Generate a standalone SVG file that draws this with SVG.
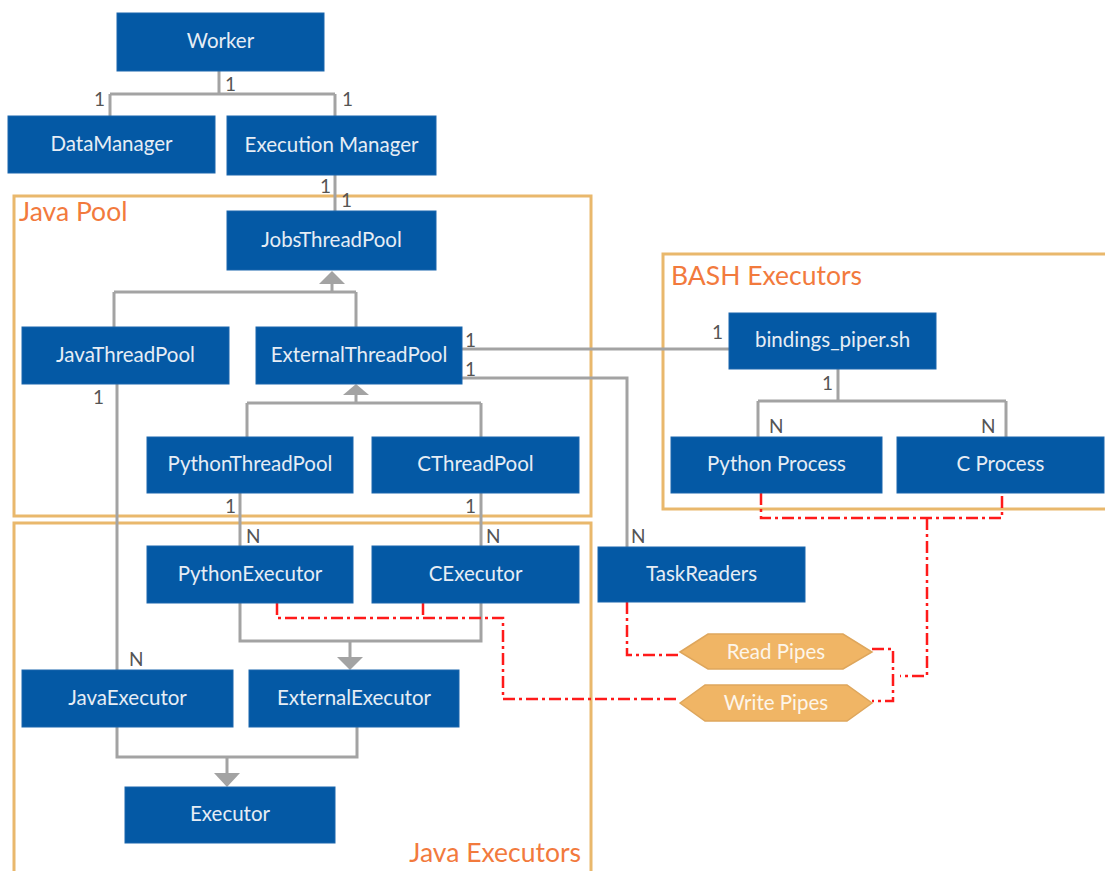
<svg xmlns="http://www.w3.org/2000/svg" width="1105" height="871" viewBox="0 0 1105 871">
  <defs>
    <style>
      .node rect { fill: #0459a5; stroke: #1a66ad; stroke-width: 1; }
      .node text { fill: #e6edf5; font-family: Lato, "Open Sans", sans-serif; font-size: 20.5px; text-anchor: middle; dominant-baseline: central; }
      .pipe polygon { fill: #f0b565; stroke: #dea65c; stroke-width: 1.5; }
      .pipe text { fill: #fdf6ea; font-family: Lato, "Open Sans", sans-serif; font-size: 20.5px; text-anchor: middle; dominant-baseline: central; }
      .group rect { fill: none; stroke: #e9b86c; stroke-width: 3; }
      .group text { fill: #f27a3d; font-family: Lato, "Open Sans", sans-serif; font-size: 26.5px; }
      .link { fill: none; stroke: #a3a3a3; stroke-width: 3; }
      .pipe-link { fill: none; stroke: #ff1a1a; stroke-width: 2.5; stroke-dasharray: 12 4 3 4; }
      .head { fill: #a3a3a3; }
      .mult { fill: #555555; font-family: Lato, "Open Sans", sans-serif; font-size: 19px; }
    </style>
  </defs>

  <rect width="1105" height="871" fill="#ffffff"/>

  <!-- Containers -->
  <g id="java-pool" class="group">
    <rect x="14" y="196" width="577" height="320"/>
    <text x="19" y="221">Java Pool</text>
  </g>
  <g id="java-executors" class="group">
    <rect x="14" y="523" width="577" height="360"/>
    <text x="581" y="862" text-anchor="end">Java Executors</text>
  </g>
  <g id="bash-executors" class="group">
    <rect x="663" y="254" width="460" height="255"/>
    <text x="671" y="285">BASH Executors</text>
  </g>

  <!-- Connectors -->
  <g id="connectors">
    <!-- Worker to managers -->
    <path class="link" d="M219 71 V94 M110 94 H335 M110 94 V116 M335 94 V116"/>
    <!-- Execution Manager to JobsThreadPool -->
    <path class="link" d="M335 175 V211"/>
    <!-- Thread pool hierarchy -->
    <path class="link" d="M332 284 V292 M114 292 H356 M114 292 V327 M356 292 V327"/>
    <polygon class="head" points="332,271 345,284 319,284"/>
    <path class="link" d="M356 395 V403 M247 403 H481 M247 403 V437 M481 403 V437"/>
    <polygon class="head" points="356,384 369,395 343,395"/>
    <!-- ExternalThreadPool to BASH side and TaskReaders -->
    <path class="link" d="M462 349 H729"/>
    <path class="link" d="M462 378 H627 V547"/>
    <!-- bindings_piper.sh to processes -->
    <path class="link" d="M838 369 V401 M758 401 H1006 M758 401 V437 M1006 401 V437"/>
    <!-- Pools to executors -->
    <path class="link" d="M117 384 V670"/>
    <path class="link" d="M240 493 V546"/>
    <path class="link" d="M481 493 V546"/>
    <!-- Executor hierarchy -->
    <path class="link" d="M240 603 V641 H481 V603 M350 641 V657"/>
    <polygon class="head" points="350,670 337,657 363,657"/>
    <path class="link" d="M117 727 V757 H357 V727 M227 757 V773"/>
    <polygon class="head" points="227,787 214,773 240,773"/>

    <!-- Pipes -->
    <path class="pipe-link" d="M277 603 V618 H503 V699 H680"/>
    <path class="pipe-link" d="M423 603 V618"/>
    <path class="pipe-link" d="M627 602 V655 H680"/>
    <path class="pipe-link" d="M761 493 V518 H1002 V493"/>
    <path class="pipe-link" d="M927 518 V676 H900"/>
    <path class="pipe-link" d="M872 649 H893 V701 H872"/>

    <!-- Multiplicities -->
    <text class="mult" x="225" y="91">1</text>
    <text class="mult" x="94" y="106">1</text>
    <text class="mult" x="342" y="106">1</text>
    <text class="mult" x="320" y="193">1</text>
    <text class="mult" x="341" y="207">1</text>
    <text class="mult" x="465" y="347">1</text>
    <text class="mult" x="465" y="376">1</text>
    <text class="mult" x="712" y="339">1</text>
    <text class="mult" x="93" y="404">1</text>
    <text class="mult" x="822" y="390">1</text>
    <text class="mult" x="769" y="433">N</text>
    <text class="mult" x="981" y="433">N</text>
    <text class="mult" x="225" y="513">1</text>
    <text class="mult" x="465" y="513">1</text>
    <text class="mult" x="246" y="543">N</text>
    <text class="mult" x="486" y="543">N</text>
    <text class="mult" x="631" y="543">N</text>
    <text class="mult" x="129" y="666">N</text>
  </g>

  <!-- Nodes -->
  <g id="worker" class="node"><rect x="117" y="13" width="207" height="58"/><text x="220.5" y="40">Worker</text></g>
  <g id="data-manager" class="node"><rect x="8" y="116" width="207" height="57"/><text x="111.5" y="142.5">DataManager</text></g>
  <g id="execution-manager" class="node"><rect x="227" y="116" width="209" height="59"/><text x="331.5" y="143.5">Execution Manager</text></g>
  <g id="jobs-thread-pool" class="node"><rect x="227" y="211" width="209" height="59"/><text x="331.5" y="238.5">JobsThreadPool</text></g>
  <g id="java-thread-pool" class="node"><rect x="22" y="327" width="207" height="57"/><text x="125.5" y="353.5">JavaThreadPool</text></g>
  <g id="external-thread-pool" class="node"><rect x="256" y="327" width="206" height="57"/><text x="359" y="353.5">ExternalThreadPool</text></g>
  <g id="python-thread-pool" class="node"><rect x="147" y="437" width="206" height="56"/><text x="250" y="463">PythonThreadPool</text></g>
  <g id="c-thread-pool" class="node"><rect x="372" y="437" width="207" height="56"/><text x="475.5" y="463">CThreadPool</text></g>
  <g id="bindings-piper" class="node"><rect x="729" y="313" width="207" height="56"/><text x="832.5" y="339">bindings_piper.sh</text></g>
  <g id="python-process" class="node"><rect x="671" y="437" width="211" height="56"/><text x="776.5" y="463">Python Process</text></g>
  <g id="c-process" class="node"><rect x="897" y="437" width="207" height="56"/><text x="1000.5" y="463">C Process</text></g>
  <g id="python-executor" class="node"><rect x="147" y="546" width="206" height="57"/><text x="250" y="572.5">PythonExecutor</text></g>
  <g id="c-executor" class="node"><rect x="372" y="546" width="207" height="57"/><text x="475.5" y="572.5">CExecutor</text></g>
  <g id="task-readers" class="node"><rect x="598" y="547" width="207" height="55"/><text x="701.5" y="572.5">TaskReaders</text></g>
  <g id="java-executor" class="node"><rect x="22" y="670" width="211" height="57"/><text x="127.5" y="696.5">JavaExecutor</text></g>
  <g id="external-executor" class="node"><rect x="249" y="670" width="210" height="57"/><text x="354" y="696.5">ExternalExecutor</text></g>
  <g id="executor" class="node"><rect x="125" y="787" width="210" height="56"/><text x="230" y="813">Executor</text></g>

  <g id="read-pipes" class="pipe">
    <polygon points="680,652 708,634 843,634 872,652 843,669 708,669"/>
    <text x="776" y="651">Read Pipes</text>
  </g>
  <g id="write-pipes" class="pipe">
    <polygon points="680,703 705,685 847,685 872,703 847,721 705,721"/>
    <text x="776" y="702">Write Pipes</text>
  </g>
</svg>
